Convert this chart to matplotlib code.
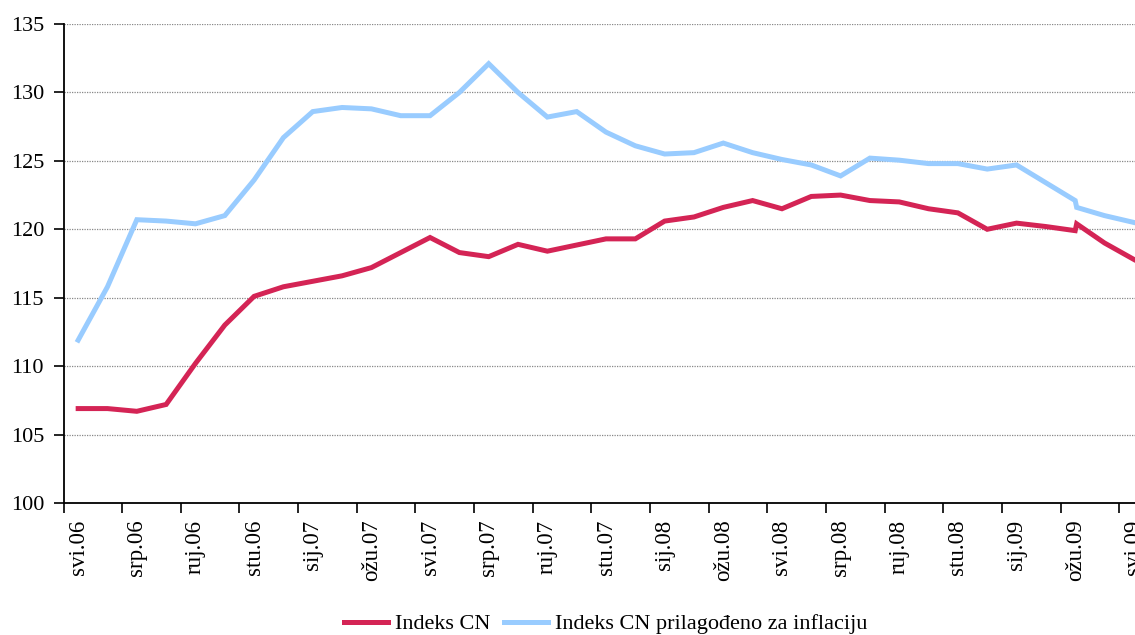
import matplotlib
matplotlib.use("Agg")
import matplotlib.pyplot as plt
import numpy as np

months = ["svi.06", "lip.06", "srp.06", "kol.06", "ruj.06", "lis.06", "stu.06", "pro.06",
          "sij.07", "velj.07", "ožu.07", "tra.07", "svi.07", "lip.07", "srp.07", "kol.07",
          "ruj.07", "lis.07", "stu.07", "pro.07", "sij.08", "velj.08", "ožu.08", "tra.08",
          "svi.08", "lip.08", "srp.08", "kol.08", "ruj.08", "lis.08", "stu.08", "pro.08",
          "sij.09", "velj.09", "ožu.09", "tra.09", "svi.09"]

# Indeks CN: values up to ožu.09, then re-based values from ožu.09 onwards
indeks_cn_a = [106.9, 106.9, 106.7, 107.2, 110.2, 113.0, 115.1, 115.8, 116.2, 116.6,
               117.2, 118.3, 119.4, 118.3, 118.0, 118.9, 118.4, 118.85, 119.3, 119.3,
               120.6, 120.9, 121.6, 122.1, 121.5, 122.4, 122.5, 122.1, 122.0, 121.5,
               121.2, 120.0, 120.45, 120.2, 119.9]
indeks_cn_b = [120.4, 119.0, 117.8]

infl_a = [111.9, 115.8, 120.7, 120.6, 120.4, 121.0, 123.6, 126.7, 128.6, 128.9,
          128.8, 128.3, 128.3, 130.0, 132.1, 130.0, 128.2, 128.6, 127.1, 126.1,
          125.5, 125.6, 126.3, 125.6, 125.1, 124.7, 123.9, 125.2, 125.05, 124.8,
          124.8, 124.4, 124.7, 123.4, 122.1]
infl_b = [121.6, 121.0, 120.5]

labels = ["Indeks CN", "Indeks CN prilagođeno za inflaciju"]
colors = ["#D42455", "#99CCFF"]

plt.rcParams['font.family'] = ['Liberation Serif', 'DejaVu Serif']

fig = plt.figure(figsize=(11.35, 6.35), dpi=100)
ax = fig.add_axes([63.5 / 1135, 132 / 635, 1085 / 1135, 479 / 635])

n_a = len(indeks_cn_a)
x_all = np.concatenate([np.arange(n_a), np.arange(n_a - 1, n_a - 1 + len(indeks_cn_b))]).astype(float)
x_all[n_a] += 0.05

red = indeks_cn_a + indeks_cn_b
blue = infl_a + infl_b

ax.plot(x_all, blue, color=colors[1], lw=3.6, solid_joinstyle='miter', label=labels[1], zorder=3)
ax.plot(x_all, red, color=colors[0], lw=3.6, solid_joinstyle='miter', label=labels[0], zorder=4)

ax.set_ylim(100, 135)
ax.set_yticks(np.arange(100, 136, 5))
ax.set_xlim(-0.5, len(months) - 0.5)

ax.set_xticks(np.arange(-0.5, len(months) - 1, 2))
ax.set_xticklabels([])
ax.set_xticks(np.arange(0, len(months), 2), minor=True)
ax.set_xticklabels(months[::2], minor=True, rotation=90, fontsize=16.5)
ax.tick_params(axis='x', which='major', length=7, width=1.2, direction='out')
ax.tick_params(axis='x', which='minor', length=0, pad=12)
ax.tick_params(axis='y', length=7, width=1.2, labelsize=16, pad=7)

ax.grid(axis='y', color='#888888', linestyle=(0, (1, 1)), linewidth=0.9)
ax.set_axisbelow(True)
for s in ['top', 'right']:
    ax.spines[s].set_visible(False)
for s in ['left', 'bottom']:
    ax.spines[s].set_linewidth(1.3)
    ax.spines[s].set_zorder(5)

h, l = ax.get_legend_handles_labels()
fig.legend(h[::-1], l[::-1], loc='center', bbox_to_anchor=(605.5 / 1135, 11 / 635),
           ncol=2, frameon=False, fontsize=16, handlelength=2.0, handletextpad=0.3,
           columnspacing=0.6)

fig.savefig("out.png", dpi=100)
